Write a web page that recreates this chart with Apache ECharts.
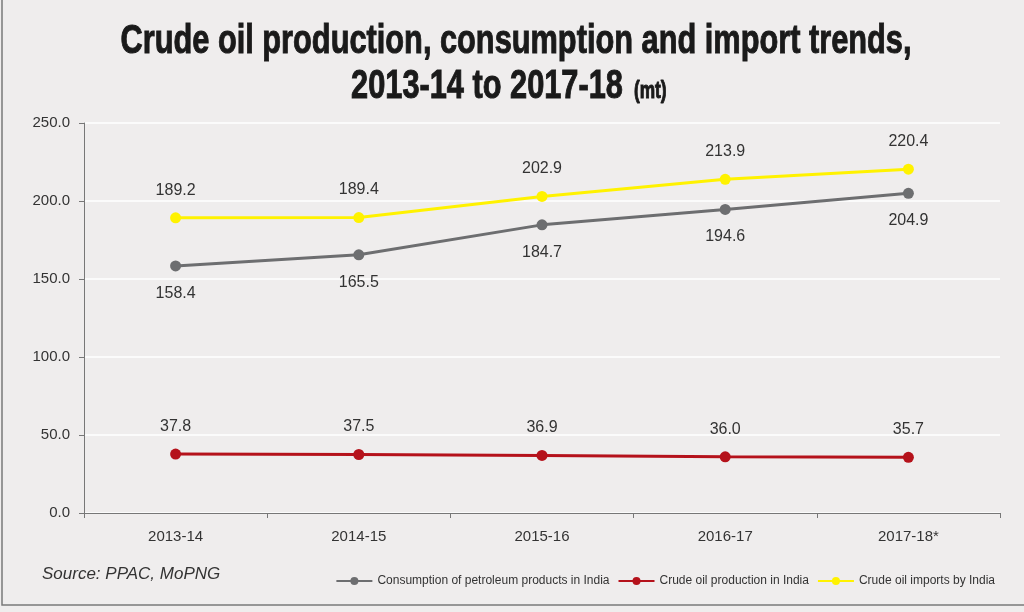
<!DOCTYPE html>
<html>
<head>
<meta charset="utf-8">
<script src="https://cdn.jsdelivr.net/npm/echarts@6/dist/echarts.min.js"></script>
<style>
  html, body { margin: 0; padding: 0; background: #efeded; }
  #chart { width: 1024px; height: 612px; }
</style>
</head>
<body>
<div id="chart"></div>
<script>
var years = ['2013-14', '2014-15', '2015-16', '2016-17', '2017-18*'];
var consumption = [158.4, 165.5, 184.7, 194.6, 204.9];
var production = [37.8, 37.5, 36.9, 36.0, 35.7];
var imports = [189.2, 189.4, 202.9, 213.9, 220.4];
var yTicks = { min: 0, max: 250, interval: 50 };

var sans = '"Liberation Sans", Arial, sans-serif';
var chart = echarts.init(document.getElementById('chart'));

// 三条线共用的样式
function lineSeries(name, data, color, labelPos) {
    return {
        name: name,
        type: 'line',
        data: data,
        symbol: 'circle',
        symbolSize: 11,
        lineStyle: { color: color, width: 3 },
        itemStyle: { color: color },
        label: {
            show: true,
            position: labelPos,
            distance: 14,
            color: '#333',
            fontFamily: sans,
            fontSize: 16,
            formatter: function (p) { return p.value.toFixed(1); }
        },
        animation: false
    };
}

// 标题用压缩字形（横向缩放）
function titleText(txt, x, y, size, align) {
    return {
        type: 'text',
        x: x,
        y: y,
        scaleX: 0.75,
        silent: true,
        style: {
            text: txt,
            fontFamily: sans,
            fontWeight: 'bold',
            fontSize: size,
            fill: '#1a1a1a',
            stroke: '#1a1a1a',
            lineWidth: 1,
            textAlign: align,
            textVerticalAlign: 'middle'
        }
    };
}

var option = {
    backgroundColor: '#efeded',
    graphic: [
        {
            type: 'rect',
            shape: { x: 2, y: -5, width: 1030, height: 610 },
            style: { fill: 'none', stroke: '#7a7a7a', lineWidth: 1.5 },
            silent: true
        },
        titleText('Crude oil production, consumption and import trends,', 516, 42, 41, 'center'),
        titleText('2013-14 to 2017-18', 487, 87, 41, 'center'),
        titleText('(mt)', 634, 92, 23, 'left'),
        {
            type: 'text',
            left: 42,
            top: 566,
            style: {
                text: 'Source: PPAC, MoPNG',
                fontFamily: sans,
                fontStyle: 'italic',
                fontSize: 17,
                fill: '#333'
            }
        }
    ],
    legend: {
        right: 24,
        top: 570,
        itemWidth: 36,
        itemHeight: 10,
        itemGap: 8,
        textStyle: { fontFamily: sans, fontSize: 12, color: '#333' },
        data: ['Consumption of petroleum products in India', 'Crude oil production in India', 'Crude oil imports by India']
    },
    grid: { left: 84, right: 24, top: 123, bottom: 99, containLabel: false },
    xAxis: {
        type: 'category',
        data: years,
        boundaryGap: true,
        axisLine: { lineStyle: { color: '#777', width: 1 } },
        axisTick: { show: true, length: 5, lineStyle: { color: '#777' } },
        axisLabel: { color: '#333', fontFamily: sans, fontSize: 15, margin: 16 }
    },
    yAxis: {
        type: 'value',
        min: yTicks.min,
        max: yTicks.max,
        interval: yTicks.interval,
        axisLine: { show: true, lineStyle: { color: '#777', width: 1 } },
        axisTick: { show: true, length: 5, lineStyle: { color: '#777' } },
        axisLabel: {
            color: '#333',
            fontFamily: sans,
            fontSize: 15,
            margin: 14,
            formatter: function (v) { return v.toFixed(1); }
        },
        splitLine: { show: true, lineStyle: { color: '#ffffff', width: 1.5 } }
    },
    series: [
        lineSeries('Consumption of petroleum products in India', consumption, '#6d6e70', 'bottom'),
        lineSeries('Crude oil production in India', production, '#b5121b', 'top'),
        lineSeries('Crude oil imports by India', imports, '#fff200', 'top')
    ]
};
chart.setOption(option);
</script>
</body>
</html>
